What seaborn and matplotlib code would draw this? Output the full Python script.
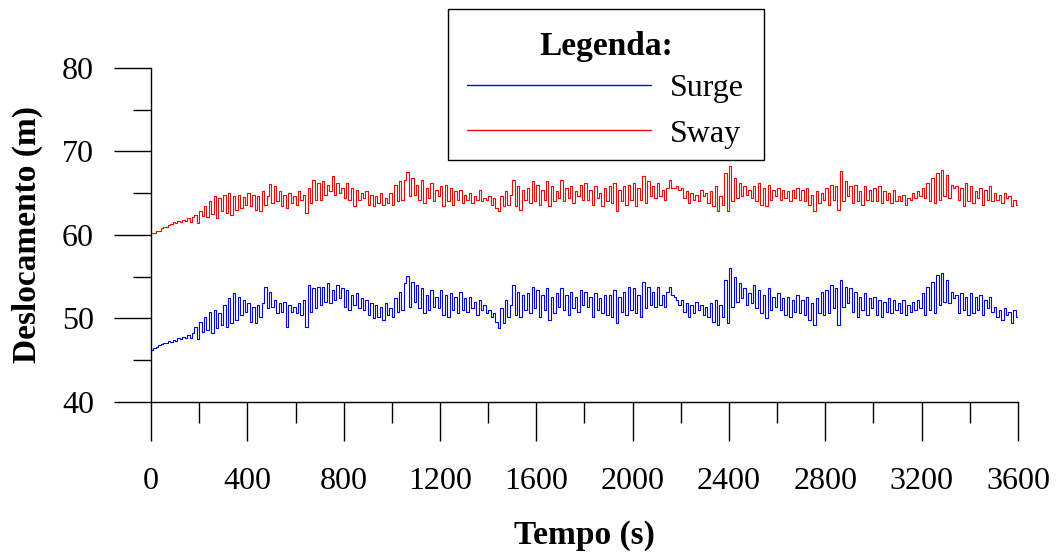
import numpy as np
import pandas as pd
import matplotlib
matplotlib.use("Agg")
import matplotlib.pyplot as plt
from matplotlib.lines import Line2D
from matplotlib.patches import Rectangle
from matplotlib.ticker import MultipleLocator
import seaborn as sns

# Sample times (s), one record every 10 s
tempo = np.arange(0, 3601, 10)

# Surge displacement (m), grouped by 100 s blocks
surge = [
    46.2, 46.4, 46.6, 46.8, 46.9, 47.1, 47.0, 47.3, 47.2, 47.4,
    47.3, 47.6, 47.5, 47.8, 47.6, 48.0, 47.7, 48.2, 49.0, 47.5,
    49.6, 48.4, 50.2, 48.6, 50.8, 48.2, 51.0, 48.8, 50.6, 49.2,
    51.6, 49.0, 52.4, 49.4, 53.0, 49.8, 52.6, 50.4, 52.2, 50.8,
    51.8, 49.6, 51.4, 49.4, 51.6, 50.2, 51.8, 53.8, 51.2, 53.2,
    51.4, 52.2, 50.6, 51.8, 50.8, 52.0, 49.0, 51.6, 50.8, 51.4,
    50.6, 51.8, 50.4, 52.2, 49.0, 54.0, 50.8, 53.6, 51.2, 53.8,
    51.6, 53.8, 52.0, 54.2, 51.8, 53.4, 52.2, 54.0, 52.4, 53.6,
    51.4, 53.4, 51.0, 52.8, 51.6, 53.0, 51.2, 52.4, 51.0, 52.2,
    50.4, 51.8, 50.0, 51.6, 50.2, 51.4, 49.8, 51.8, 50.4, 51.2,
    50.2, 52.4, 50.8, 53.2, 51.0, 54.2, 55.1, 51.4, 54.4, 52.0,
    54.0, 51.2, 53.6, 50.6, 52.8, 51.0, 53.4, 51.4, 52.6, 51.2,
    53.4, 50.4, 52.8, 50.2, 53.0, 51.0, 52.6, 50.6, 53.2, 51.0,
    52.4, 50.8, 52.6, 51.2, 52.0, 50.4, 52.2, 51.0, 51.6, 50.6,
    51.0, 50.2, 50.6, 49.6, 48.8, 51.2, 49.4, 52.2, 50.2, 51.6,
    54.0, 50.4, 53.2, 50.2, 52.8, 51.0, 53.0, 50.6, 53.8, 51.2,
    53.4, 50.2, 52.8, 51.0, 53.6, 49.8, 52.6, 50.6, 53.0, 51.4,
    53.6, 51.0, 52.8, 50.4, 53.2, 51.2, 52.6, 50.8, 53.4, 51.6,
    53.2, 51.4, 52.6, 50.2, 53.0, 51.0, 52.4, 50.6, 52.8, 50.4,
    52.8, 50.2, 53.4, 49.4, 52.6, 50.8, 53.2, 50.4, 53.8, 51.0,
    53.6, 50.6, 52.8, 50.2, 54.4, 51.2, 53.8, 51.6, 53.2, 51.4,
    53.8, 51.6, 52.8, 51.4, 53.2, 53.8, 52.8, 52.6, 52.2, 51.6,
    52.2, 50.8, 51.8, 50.2, 51.6, 50.6, 52.0, 51.0, 51.6, 50.4,
    51.4, 50.2, 51.8, 49.6, 52.2, 49.2, 51.6, 50.2, 54.6, 49.4,
    56.0, 51.4, 55.0, 52.0, 54.2, 52.4, 53.6, 51.6, 53.0, 51.8,
    54.0, 51.2, 53.4, 50.6, 52.8, 50.0, 53.6, 51.0, 52.6, 51.4,
    53.0, 51.0, 52.4, 50.4, 52.6, 50.2, 52.2, 50.8, 52.8, 50.6,
    52.2, 50.4, 52.6, 49.8, 51.8, 49.2, 52.4, 50.6, 53.2, 50.4,
    53.4, 50.6, 54.0, 51.2, 53.6, 49.2, 54.6, 51.4, 53.8, 51.8,
    53.6, 50.8, 53.2, 50.2, 52.6, 51.0, 53.0, 50.4, 52.4, 51.2,
    52.6, 50.4, 52.2, 50.2, 52.0, 50.8, 52.4, 50.6, 52.2, 51.0,
    51.8, 50.6, 52.2, 50.4, 51.6, 50.8, 52.0, 51.0, 52.2, 51.2,
    53.0, 50.4, 53.8, 51.0, 54.4, 50.6, 55.2, 51.6, 55.4, 52.0,
    54.6, 51.8, 53.2, 52.4, 52.8, 50.6, 53.0, 51.0, 52.6, 50.4,
    53.0, 50.6, 52.6, 51.0, 52.8, 50.4, 52.2, 51.2, 52.6, 50.8,
    51.4, 50.2, 51.0, 49.8, 51.2, 50.4, 50.8, 49.4, 51.0, 50.2,
    50.6,
]

# Sway displacement (m), grouped by 100 s blocks
sway = [
    60.2, 60.2, 60.5, 60.5, 60.8, 60.9, 61.0, 61.2, 61.3, 61.5,
    61.4, 61.7, 61.6, 61.8, 61.7, 62.0, 61.6, 62.1, 62.4, 61.4,
    62.8, 62.3, 63.5, 62.2, 64.0, 62.5, 64.6, 62.0, 64.4, 62.8,
    64.8, 62.6, 65.0, 62.4, 64.6, 63.0, 64.8, 63.2, 64.5, 63.6,
    65.0, 63.4, 64.8, 63.0, 64.6, 62.8, 65.2, 63.6, 64.6, 66.1,
    63.8, 65.8, 64.0, 65.2, 63.4, 64.8, 63.2, 65.0, 63.8, 64.6,
    63.6, 65.2, 64.2, 64.8, 62.6, 65.6, 63.8, 66.6, 64.2, 66.2,
    64.2, 66.4, 64.8, 66.0, 65.2, 67.0, 64.8, 66.2, 65.0, 65.6,
    64.4, 66.2, 64.2, 65.6, 63.4, 65.4, 64.2, 65.0, 64.4, 65.2,
    63.6, 64.8, 63.4, 64.6, 63.8, 65.0, 63.6, 64.4, 63.8, 65.0,
    63.6, 66.0, 64.0, 66.4, 64.2, 66.6, 67.5, 64.6, 66.8, 64.8,
    66.0, 64.2, 66.6, 63.8, 65.6, 64.4, 66.2, 64.0, 65.4, 64.6,
    65.8, 63.4, 66.0, 64.0, 65.6, 63.6, 65.2, 64.2, 65.4, 63.8,
    64.8, 64.2, 65.0, 63.8, 64.6, 64.2, 65.4, 64.0, 64.4, 64.2,
    64.6, 63.6, 64.4, 63.2, 62.8, 64.6, 63.4, 65.2, 63.6, 64.8,
    66.6, 63.4, 65.8, 63.0, 65.4, 64.2, 65.6, 63.8, 66.4, 64.0,
    66.0, 63.6, 65.4, 64.2, 66.4, 63.4, 65.8, 64.0, 65.2, 64.4,
    66.6, 64.0, 65.6, 64.4, 65.8, 63.8, 65.2, 64.6, 66.0, 64.2,
    66.2, 64.2, 65.4, 63.6, 65.8, 64.4, 65.0, 63.4, 65.6, 64.0,
    65.8, 63.8, 66.2, 62.8, 65.4, 64.0, 65.8, 63.6, 66.0, 64.2,
    66.2, 63.4, 65.6, 64.2, 67.0, 63.8, 66.4, 64.6, 65.8, 64.4,
    66.2, 64.6, 65.4, 64.2, 65.6, 66.6, 65.6, 65.6, 65.8, 65.4,
    65.6, 64.4, 65.2, 63.8, 65.0, 64.2, 64.8, 64.0, 65.4, 64.6,
    65.0, 63.8, 65.2, 63.4, 65.8, 62.8, 64.6, 63.6, 67.4, 62.8,
    68.2, 64.0, 66.8, 64.4, 66.2, 64.6, 65.8, 64.8, 65.4, 64.4,
    65.8, 64.0, 66.2, 63.6, 65.6, 63.4, 66.0, 64.2, 65.4, 64.6,
    65.6, 64.2, 65.4, 64.4, 65.2, 64.0, 65.4, 64.4, 65.6, 64.2,
    65.4, 64.0, 65.6, 63.6, 64.8, 62.8, 65.2, 63.8, 65.0, 64.2,
    65.6, 63.6, 66.0, 64.2, 65.8, 63.0, 67.6, 64.0, 66.4, 64.6,
    65.8, 63.8, 66.0, 64.0, 65.2, 63.6, 65.8, 64.2, 65.4, 64.0,
    65.6, 64.0, 65.8, 63.8, 65.2, 64.2, 65.0, 63.8, 65.4, 64.0,
    64.6, 64.0, 64.8, 63.6, 64.4, 64.2, 65.0, 64.4, 65.2, 64.6,
    65.6, 64.4, 66.2, 64.0, 66.8, 63.8, 67.4, 64.2, 67.8, 64.6,
    67.2, 64.4, 66.0, 65.6, 65.8, 64.2, 65.6, 63.4, 66.2, 64.0,
    65.8, 63.8, 65.2, 64.4, 65.6, 63.6, 65.4, 64.2, 65.8, 64.0,
    65.0, 64.2, 64.8, 63.8, 65.0, 64.4, 64.6, 63.4, 64.2, 63.6,
    64.0,
]

series_names = ["Surge", "Sway"]
series_colors = ["#0000ff", "#ff0000"]

df = pd.DataFrame({"Tempo": tempo, "Surge": surge, "Sway": sway})
long_df = df.melt(id_vars="Tempo", var_name="Serie", value_name="Deslocamento")

sns.set_style("ticks")
plt.rcParams["font.family"] = ["Liberation Serif", "DejaVu Serif"]
plt.rcParams["text.color"] = "black"
plt.rcParams["axes.labelcolor"] = "black"
plt.rcParams["xtick.color"] = "black"
plt.rcParams["ytick.color"] = "black"

fig = plt.figure(figsize=(10.56, 5.52), dpi=100)
ax = fig.add_axes([0.143, 0.272, 0.821, 0.605])

sns.lineplot(
    data=long_df, x="Tempo", y="Deslocamento", hue="Serie",
    hue_order=series_names, palette=series_colors,
    drawstyle="steps-post", linewidth=0.8, legend=False, ax=ax,
)

ax.set_xlim(0, 3600)
ax.set_ylim(40, 80)
ax.xaxis.set_major_locator(MultipleLocator(400))
ax.xaxis.set_minor_locator(MultipleLocator(200))
ax.yaxis.set_major_locator(MultipleLocator(10))
ax.yaxis.set_minor_locator(MultipleLocator(5))

for side in ("top", "right"):
    ax.spines[side].set_visible(False)
for side in ("left", "bottom"):
    ax.spines[side].set_linewidth(1.0)
    ax.spines[side].set_color("black")

ax.tick_params(axis="x", which="major", direction="out", length=28, width=1,
               pad=19, labelsize=23, labelcolor="black")
ax.tick_params(axis="x", which="minor", direction="out", length=15, width=1)
ax.tick_params(axis="y", which="major", direction="out", length=27, width=1,
               pad=14, labelsize=23, labelcolor="black")
ax.tick_params(axis="y", which="minor", direction="out", length=13, width=1)

ax.set_xlabel("Tempo (s)", fontsize=24, fontweight="bold", labelpad=17,
              color="black")
ax.set_ylabel("Deslocamento (m)", fontsize=24, fontweight="bold", labelpad=14,
              color="black")

# Legend panel: framed box with a bold heading and the two series keys
fig.add_artist(Rectangle((0.4242, 0.7101), 0.2992, 0.2736,
                         transform=fig.transFigure, facecolor="white",
                         edgecolor="black", linewidth=1.0, zorder=3))
fig.text(0.5739, 0.9149, "Legenda:", ha="center", va="center",
         fontsize=24, fontweight="bold", color="black", zorder=4)

handles = [Line2D([], [], color=c, linewidth=1.0) for c in series_colors]
leg = fig.legend(
    handles, series_names, loc="center left", bbox_to_anchor=(0.4422, 0.7989),
    fontsize=23, frameon=False, handlelength=5.75, handletextpad=0.6,
    labelspacing=0.52, borderpad=0, borderaxespad=0,
)
leg.set_zorder(5)
for txt in leg.get_texts():
    txt.set_color("black")

fig.savefig("out.png", dpi=100, facecolor="white")
